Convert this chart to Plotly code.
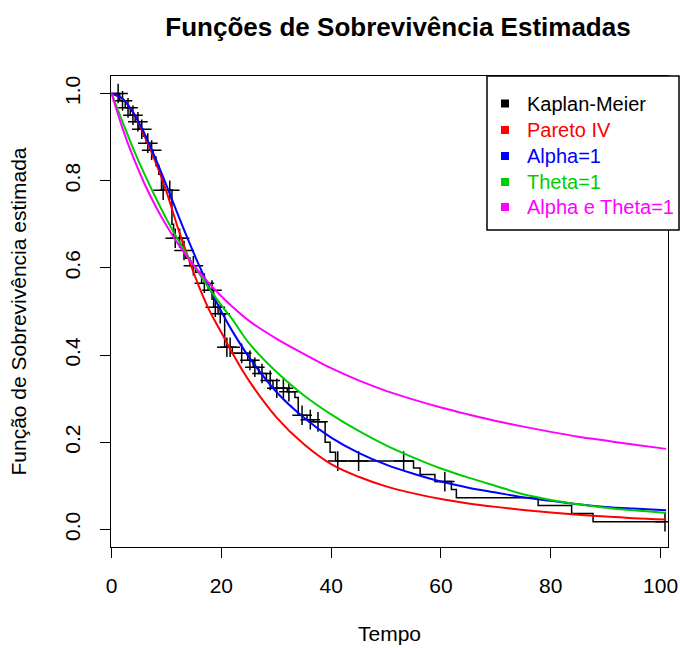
import numpy as np
import plotly.graph_objects as go

# Kaplan-Meier step function (time of change, survival after change)
km_time = [0, 1.5, 2.5, 3.4, 4.3, 5.0, 5.8, 6.3, 7.0, 7.6, 8.1, 8.6, 9.1, 11.0, 11.3, 12.9,
           13.5, 14.3, 15.3, 16.4, 17.6, 18.6, 19.4, 20.6, 22.0, 24.8, 25.8, 26.8, 28.2,
           29.4, 32.0, 33.4, 34.0, 35.6, 36.8, 38.9, 39.8, 40.8, 55.0, 56.2, 58.9, 61.9,
           62.8, 77.7, 83.8, 87.7, 100.8]
km_surv = [1.0, 0.983, 0.967, 0.95, 0.935, 0.918, 0.902, 0.886, 0.87, 0.854, 0.835, 0.815,
           0.778, 0.70, 0.668, 0.640, 0.622, 0.605, 0.590, 0.565, 0.549, 0.51, 0.495, 0.418,
           0.404, 0.388, 0.372, 0.358, 0.342, 0.324, 0.316, 0.303, 0.262, 0.252, 0.247,
           0.200, 0.177, 0.157, 0.141, 0.126, 0.110, 0.092, 0.073, 0.055, 0.037, 0.018, 0.018]
# censoring times
cens_time = [1.2, 2.0, 3.0, 3.9, 4.8, 5.5, 6.6, 7.3, 9.4, 10.6, 11.6, 12.4, 13.2, 14.9, 16.9,
             18.3, 18.9, 19.8, 21.0, 21.6, 23.7, 25.2, 26.1, 27.4, 28.9, 30.1, 31.3, 32.3,
             34.7, 36.2, 37.6, 41.2, 45.0, 53.2, 60.7, 100.8]

# fitted survival curves
t_fit = [0, 2, 4, 6, 8, 10, 12, 14, 16, 18, 20, 22, 25, 30, 35, 40, 45, 50, 55, 60, 65, 70,
         75, 80, 85, 90, 95, 101]
s_pareto = [1.0, 0.988, 0.955, 0.902, 0.843, 0.775, 0.695, 0.622, 0.555, 0.498, 0.452, 0.405,
            0.342, 0.258, 0.196, 0.150, 0.121, 0.099, 0.083, 0.070, 0.060, 0.052, 0.045,
            0.039, 0.034, 0.030, 0.026, 0.023]
s_alpha1 = [1.0, 0.988, 0.955, 0.908, 0.851, 0.789, 0.725, 0.663, 0.604, 0.550, 0.500, 0.455,
            0.396, 0.316, 0.257, 0.211, 0.176, 0.149, 0.128, 0.110, 0.096, 0.085, 0.074,
            0.066, 0.058, 0.052, 0.048, 0.044]
s_theta1 = [1.0, 0.935, 0.872, 0.815, 0.762, 0.712, 0.667, 0.625, 0.586, 0.549, 0.514, 0.482,
            0.428, 0.362, 0.308, 0.264, 0.226, 0.193, 0.165, 0.140, 0.119, 0.100, 0.081,
            0.068, 0.058, 0.050, 0.044, 0.038]
s_both1 = [1.0, 0.920, 0.852, 0.793, 0.742, 0.697, 0.657, 0.622, 0.590, 0.561, 0.535, 0.511,
           0.479, 0.438, 0.403, 0.370, 0.342, 0.318, 0.298, 0.280, 0.264, 0.249, 0.236,
           0.224, 0.213, 0.204, 0.195, 0.185]

labels = ["Kaplan-Meier", "Pareto IV", "Alpha=1", "Theta=1", "Alpha e Theta=1"]
colors = ["#000000", "#FF0000", "#0000FF", "#00CD00", "#FF00FF"]

FONT = "Liberation Sans, Arial, sans-serif"
W, H = 680, 648
ML, MR, MT, MB = 111, 12, 76, 101
PW, PH = W - ML - MR, H - MT - MB


def px(xp):
    return (xp - ML) / PW


def py(yp):
    return (H - MB - yp) / PH


km_t = np.array(km_time)
km_s = np.array(km_surv)
idx = np.searchsorted(km_t, np.array(cens_time), side="right") - 1
cens_surv = km_s[idx]

fig = go.Figure()
fig.add_trace(go.Scatter(x=km_time, y=km_surv, mode="lines",
                         line=dict(shape="hv", color="black", width=1.5),
                         name=labels[0], showlegend=False, hoverinfo="skip"))
fig.add_trace(go.Scatter(x=cens_time, y=cens_surv, mode="markers",
                         marker=dict(symbol="cross-thin", size=14, line=dict(width=1.5, color="black")),
                         showlegend=False, hoverinfo="skip"))
for s, c, lab in zip([s_pareto, s_alpha1, s_theta1, s_both1], colors[1:], labels[1:]):
    fig.add_trace(go.Scatter(x=t_fit, y=s, mode="lines", name=lab,
                             line=dict(color=c, width=2, shape="spline"), showlegend=False))

# legend box (R-style: filled squares, coloured text)
shapes = [dict(type="rect", xref="paper", yref="paper", x0=px(487), x1=px(679), y0=py(230), y1=py(76),
               line=dict(color="black", width=1.5), fillcolor="white", layer="above")]
annotations = []
row_y = [103.5, 130, 156, 182, 207]
for lab, c, ry in zip(labels, colors, row_y):
    shapes.append(dict(type="rect", xref="paper", yref="paper", x0=px(501), x1=px(509),
                       y0=py(ry + 4), y1=py(ry - 4), line=dict(width=0), fillcolor=c, layer="above"))
    annotations.append(dict(text=lab, xref="paper", yref="paper", x=px(525), y=py(ry),
                            xanchor="left", yanchor="middle", showarrow=False,
                            font=dict(family=FONT, size=20, color=c)))

fig.update_layout(
    width=W, height=H,
    margin=dict(l=ML, r=MR, t=MT, b=MB),
    paper_bgcolor="white", plot_bgcolor="white",
    font=dict(family=FONT, size=21, color="black"),
    title=dict(text="Funções de Sobrevivência Estimadas", x=px(398), xref="paper",
               y=1 - 27 / H, yanchor="middle", xanchor="center",
               font=dict(family=FONT, size=26, color="black", weight="bold")),
    shapes=shapes, annotations=annotations,
    showlegend=False,
)
fig.update_xaxes(range=[-0.1, 101.35], tickvals=[0, 20, 40, 60, 80, 100], automargin=False,
                 showline=True, mirror=True, linecolor="black", linewidth=1,
                 ticks="outside", ticklen=10, tickcolor="black", showgrid=False, zeroline=False,
                 ticklabelstandoff=10,
                 title=dict(text="Tempo", standoff=30, font=dict(size=21)))
fig.update_yaxes(range=[-0.04, 1.04], tickvals=[0, 0.2, 0.4, 0.6, 0.8, 1.0], automargin=False,
                 ticktext=["0.0", "0.2", "0.4", "0.6", "0.8", "1.0"], tickangle=-90,
                 showline=True, mirror=True, linecolor="black", linewidth=1,
                 ticks="outside", ticklen=10, tickcolor="black", showgrid=False, zeroline=False,
                 ticklabelstandoff=12,
                 title=dict(text="Função de Sobrevivência estimada", standoff=28, font=dict(size=21)))

fig.write_html("out.html", config={"displayModeBar": False},
               post_script="document.body.style.margin='0';document.body.style.padding='0';"
                           "document.documentElement.style.overflow='hidden';")
